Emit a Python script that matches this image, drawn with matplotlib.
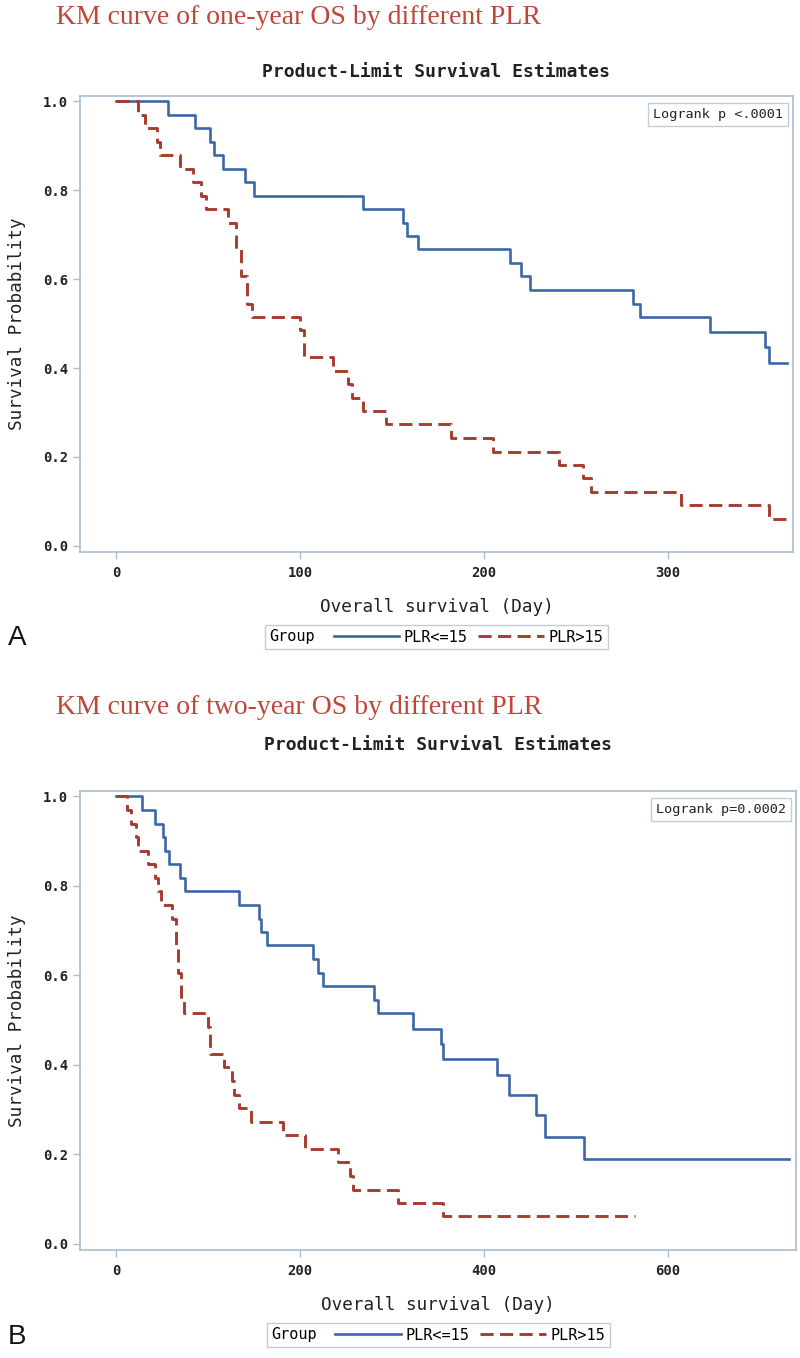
import matplotlib
matplotlib.use("Agg")
import matplotlib.pyplot as plt
from matplotlib.lines import Line2D
from matplotlib.offsetbox import HPacker

# Kaplan-Meier steps: day of event, survival after it
blue_days = [0, 28, 43, 51, 53, 58, 70, 75, 134, 156, 158, 164, 214, 220, 225,
             281, 285, 323, 353, 355, 414, 427, 456, 466, 509]
blue_surv = [1.0, 0.970, 0.939, 0.909, 0.879, 0.848, 0.818, 0.788, 0.758, 0.727,
             0.697, 0.667, 0.636, 0.606, 0.576, 0.545, 0.515, 0.481, 0.447, 0.412,
             0.377, 0.333, 0.287, 0.238, 0.190]
red_days = [0, 12, 16, 22, 24, 35, 42, 46, 49, 61, 65, 68, 71, 74, 100, 102, 118,
            126, 128, 134, 147, 182, 205, 241, 254, 258, 307, 355]
red_surv = [1.0, 0.970, 0.939, 0.909, 0.879, 0.848, 0.818, 0.788, 0.758, 0.727,
            0.667, 0.606, 0.545, 0.515, 0.485, 0.424, 0.394, 0.364, 0.333, 0.303,
            0.273, 0.242, 0.212, 0.182, 0.152, 0.121, 0.091, 0.061]

panel_titles = ["KM curve of one-year OS by different PLR",
                "KM curve of two-year OS by different PLR"]
panel_letters = ["A", "B"]
logrank_texts = ["Logrank p <.0001", "Logrank p=0.0002"]
group_labels = ["PLR<=15", "PLR>15"]
x_ticks = [[0, 100, 200, 300], [0, 200, 400, 600]]
y_ticks = [0.0, 0.2, 0.4, 0.6, 0.8, 1.0]
blue_end = [365, 731]
red_end = [365, 564]
x_limits = [(-19.6, 368), (-39, 739)]

BLUE = "#3b66a8"
RED = "#a63c2e"
FRAME = "#a9bccf"
TITLE_RED = "#c0463a"
MONO = "DejaVu Sans Mono"

W, H = 800, 1358
fig = plt.figure(figsize=(W / 100, H / 100), dpi=100)

# pixel layout of each panel: (frame top, frame bottom, frame right, title y, subtitle y,
#                              xlabel y, legend y, letter y)
layout = [
    (96, 552, 793, 18, 72, 607, 637, 638),
    (791, 1250, 796, 707, 745, 1305, 1335, 1337),
]


def km_steps(days, surv, end):
    x = [d for d in days if d <= end]
    y = list(surv[:len(x)])
    x.append(end)
    y.append(y[-1])
    return x, y


for i in range(2):
    top, bottom, right, t_y, s_y, xl_y, lg_y, let_y = layout[i]
    left = 80
    ax = fig.add_axes([left / W, 1 - bottom / H, (right - left) / W, (bottom - top) / H])

    bx, by = km_steps(blue_days, blue_surv, blue_end[i])
    rx, ry = km_steps(red_days, red_surv, red_end[i])
    ax.step(bx, by, where="post", color=BLUE, lw=1.9)
    ax.step(rx, ry, where="post", color=RED, lw=2.1, dashes=(4.5, 2.2))

    ax.set_xlim(*x_limits[i])
    ax.set_ylim(-0.014, 1.012)
    ax.set_xticks(x_ticks[i])
    ax.set_yticks(y_ticks)
    ax.set_yticklabels(["%.1f" % v for v in y_ticks])
    for sp in ax.spines.values():
        sp.set_color(FRAME)
        sp.set_linewidth(1.2)
    ax.tick_params(axis="x", length=5, width=1, color=FRAME, pad=5, labelsize=10,
                   labelcolor="#222222")
    ax.tick_params(axis="y", length=5, width=1, color=FRAME, pad=3.5, labelsize=10,
                   labelcolor="#222222")
    for lab in ax.get_xticklabels() + ax.get_yticklabels():
        lab.set_family(MONO)
        lab.set_fontweight("bold")

    # logrank box, top right inside the frame
    ax.text(0.986, 0.974, logrank_texts[i], transform=ax.transAxes, ha="right", va="top",
            family=MONO, fontsize=9.7, color="#222222",
            bbox=dict(boxstyle="square,pad=0.35", fc="white", ec="#c3ccd6", lw=1))

    cx = (left + right) / 2 / W
    fig.text(56 / W, 1 - t_y / H, panel_titles[i], family="Liberation Serif",
             fontsize=20, color=TITLE_RED, ha="left", va="center")
    fig.text(cx, 1 - s_y / H, "Product-Limit Survival Estimates", family=MONO,
             fontsize=13, fontweight="bold", color="#222222", ha="center", va="center")
    fig.text(cx, 1 - xl_y / H, "Overall survival (Day)", family=MONO, fontsize=12.7,
             color="#222222", ha="center", va="center")
    fig.text(17 / W, 1 - (top + bottom) / 2 / H, "Survival Probability", family=MONO,
             fontsize=12.7, color="#222222", ha="center", va="center", rotation=90)
    fig.text(8 / W, 1 - let_y / H, panel_letters[i], family="Liberation Sans",
             fontsize=20, color="#111111", ha="left", va="center")

    handles = [Line2D([], [], color=BLUE, lw=1.9),
               Line2D([], [], color=RED, lw=2.1, dashes=(4.5, 2.2))]
    leg = ax.legend(handles, group_labels, ncol=2, loc="center",
                    bbox_to_anchor=(cx, 1 - lg_y / H), bbox_transform=fig.transFigure,
                    frameon=True, fancybox=False, edgecolor="#c3ccd6", framealpha=1,
                    prop={"family": MONO, "size": 11}, handlelength=4.3,
                    handletextpad=0.3, columnspacing=0.7, borderpad=0.3,
                    title="Group", title_fontproperties={"family": MONO, "size": 11})
    leg.get_frame().set_linewidth(1)
    # put the "Group" title beside the entries instead of above them
    fs = leg._fontsize
    leg._legend_box = HPacker(pad=leg.borderpad * fs, sep=1.2 * fs, align="center",
                              children=[leg._legend_title_box, leg._legend_handle_box])
    leg._legend_box.set_figure(fig)
    leg._legend_box.axes = ax
    leg._legend_box.set_offset(leg._findoffset)

fig.savefig("out.png", dpi=100, facecolor="white")
